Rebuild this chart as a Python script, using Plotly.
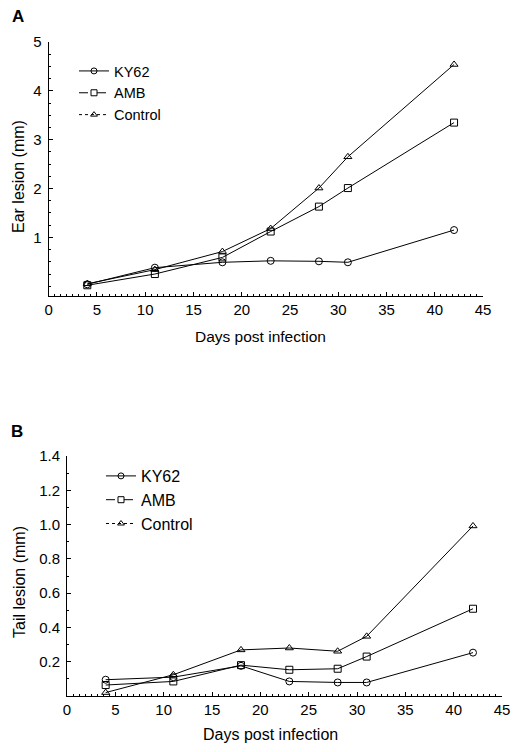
import plotly.graph_objects as go

days = [4, 11, 18, 23, 28, 31, 42]
ear_ky62 = [0.04, 0.38, 0.49, 0.52, 0.51, 0.49, 1.15]
ear_amb = [0.02, 0.25, 0.59, 1.12, 1.63, 2.01, 3.35]
ear_control = [0.05, 0.34, 0.71, 1.18, 2.01, 2.65, 4.54]
tail_ky62 = [0.095, 0.11, 0.176, 0.085, 0.079, 0.079, 0.253]
tail_amb = [0.064, 0.085, 0.18, 0.153, 0.159, 0.23, 0.509]
tail_control = [0.02, 0.124, 0.269, 0.28, 0.261, 0.348, 0.992]
series_names = ["KY62", "AMB", "Control"]
x_ticks = [0, 5, 10, 15, 20, 25, 30, 35, 40, 45]
ear_ticks = [1, 2, 3, 4, 5]
tail_ticks = [0.2, 0.4, 0.6, 0.8, 1.0, 1.2, 1.4]
tail_tick_text = ["0.2", "0.4", "0.6", "0.8", "1.0", "1.2", "1.4"]

# page body has an 8px default margin; size the figure to fit inside the window
OFF = 8
W, H = 524 - OFF, 752 - OFF
FONT = "Arial, Liberation Sans, sans-serif"
symbols = ["circle-open", "square-open", "triangle-up-open"]
dashes = ["solid", "dash", "dot"]

fig = go.Figure()

def add_panel(ys, xa, ya, legend):
    for name, y, sym, dash in zip(series_names, ys, symbols, dashes):
        fig.add_trace(go.Scatter(
            x=days, y=y, mode="lines+markers", xaxis=xa, yaxis=ya,
            line=dict(color="black", width=1),
            marker=dict(symbol=sym, size=7, color="black", line=dict(width=1)),
            showlegend=False))
        fig.add_trace(go.Scatter(
            x=[None], y=[None], mode="lines+markers", name=name, legend=legend,
            line=dict(color="black", width=1, dash=dash),
            marker=dict(symbol=sym, size=6, color="black", line=dict(width=1)),
            showlegend=True))

add_panel([ear_ky62, ear_amb, ear_control], "x", "y", "legend")
add_panel([tail_ky62, tail_amb, tail_control], "x2", "y2", "legend2")

def px_x(p):
    return (p - OFF) / W

def px_y(p):
    return 1 - (p - OFF) / H

axis_common = dict(showline=True, linecolor="black", linewidth=1, ticks="inside",
                   ticklen=4, tickcolor="black", showgrid=False, zeroline=False,
                   mirror=False, automargin=False,
                   tickfont=dict(family=FONT, size=15, color="black"))

def label(text, x, y, size, angle=0, bold=False):
    return dict(text=f"<b>{text}</b>" if bold else text, x=px_x(x), y=px_y(y),
                xref="paper", yref="paper", xanchor="center", yanchor="middle",
                showarrow=False, textangle=angle,
                font=dict(family=FONT, size=size, color="black"))

fig.update_layout(
    width=W, height=H, margin=dict(l=0, r=0, t=0, b=0, autoexpand=False),
    paper_bgcolor="white", plot_bgcolor="white",
    font=dict(family=FONT, color="black"),
    xaxis=dict(domain=[px_x(48.7), px_x(483)], range=[0, 45], tickvals=x_ticks,
               anchor="y",
               minor=dict(ticks="inside", ticklen=2, dtick=0.625, tickcolor="black"),
               **axis_common),
    yaxis=dict(domain=[px_y(296), px_y(42)], range=[-0.2, 5.0], tickvals=ear_ticks,
               anchor="x",
               minor=dict(ticks="inside", ticklen=2, dtick=0.25, tickcolor="black"),
               ticklabelstandoff=3,
               **axis_common),
    xaxis2=dict(domain=[px_x(67), px_x(502)], range=[0, 45], tickvals=x_ticks,
                anchor="y2",
                minor=dict(ticks="inside", ticklen=2, dtick=0.625, tickcolor="black"),
                **axis_common),
    yaxis2=dict(domain=[px_y(696), px_y(456)], range=[0, 1.4], tickvals=tail_ticks,
                ticktext=tail_tick_text,
                anchor="x2",
                minor=dict(ticks="inside", ticklen=2, dtick=0.1, tickcolor="black"),
                ticklabelstandoff=3,
                **axis_common),
    legend=dict(x=px_x(74), y=px_y(55), xanchor="left", yanchor="top",
                font=dict(family=FONT, size=14.5, color="black"),
                bgcolor="rgba(0,0,0,0)", itemwidth=30, tracegroupgap=0),
    legend2=dict(x=px_x(101), y=px_y(459), xanchor="left", yanchor="top",
                 font=dict(family=FONT, size=16, color="black"),
                 bgcolor="rgba(0,0,0,0)", itemwidth=30, tracegroupgap=0),
    annotations=[
        label("A", 18, 17, 17, bold=True),
        label("B", 17, 431, 17, bold=True),
        label("Days post infection", 260, 337, 15.5),
        label("Ear lesion (mm)", 18, 177, 16, angle=-90),
        label("Days post infection", 270, 734, 16),
        label("Tail lesion (mm)", 19, 582, 16, angle=-90),
    ],
)

fig.write_html("out.html")
